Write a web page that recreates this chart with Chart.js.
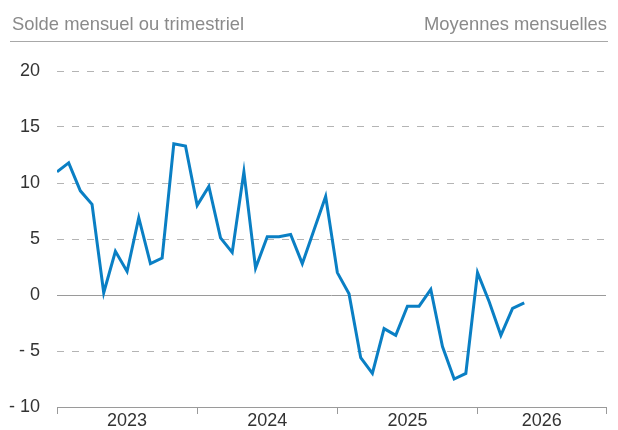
<!DOCTYPE html>
<html>
<head>
<meta charset="utf-8">
<script src="https://cdn.jsdelivr.net/npm/chart.js@4.4.1/dist/chart.umd.min.js"></script>
<style>
  body { margin: 0; background: #fff; }
  #wrap { position: relative; width: 618px; height: 430px; font-family: 'Liberation Sans', Arial, sans-serif; }
  #wrap canvas { position: absolute; left: 0; top: 0; }
  .head { position: absolute; top: 15px; font-size: 18.4px; line-height: 18px; color: #8a8a8a; white-space: nowrap; }
  #left { left: 12px; }
  #right { right: 11px; }
  #rule { position: absolute; left: 10px; top: 41px; width: 598px; height: 1px; background: #a8a8a8; }
</style>
</head>
<body>
<div id="wrap">
  <canvas id="chart" width="618" height="430"></canvas>
  <div class="head" id="left">Solde mensuel ou trimestriel</div>
  <div class="head" id="right">Moyennes mensuelles</div>
  <div id="rule"></div>
</div>
<script>
/* eslint-disable no-undef */
// Données (une valeur par mois, janv. 2023 -> mai 2026)
const years = ['2023', '2024', '2025', '2026'];
const balance = [
  11.0, 11.8, 9.3, 8.1, 0.2, 3.9, 2.1, 6.9, 2.8, 3.3, 13.5, 13.3,
  8.0, 9.7, 5.1, 3.8, 11.0, 2.4, 5.2, 5.2, 5.4, 2.8, 5.8, 8.8,
  2.0, 0.1, -5.6, -7.0, -3.0, -3.6, -1.0, -1.0, 0.5, -4.6, -7.5, -7.0,
  2.0, -0.6, -3.6, -1.2, -0.7,
];
const yTicks = [20, 15, 10, 5, 0, -5, -10];

// bornes des années et milieux pour les libellés
const lastIndex = years.length * 12 - 1;
const bounds = years.map((y, i) => i * 12).concat([lastIndex]);
const mids = years.map((y, i) => (bounds[i] + bounds[i + 1]) / 2);

const ctx = document.getElementById('chart').getContext('2d');
const chart = new Chart(ctx, {
  type: 'line',
  data: {
    datasets: [{
      data: balance.map((v, i) => ({ x: i, y: v })),
      borderColor: '#0a7fc4',
      borderWidth: 3,
      pointRadius: 0,
      tension: 0,
      fill: false,
    }],
  },
  options: {
    responsive: false,
    animation: false,
    layout: { padding: { top: 71, right: 12, left: 0, bottom: 0 } },
    plugins: { legend: { display: false }, tooltip: { enabled: false } },
    scales: {
      x: {
        type: 'linear',
        min: 0,
        max: lastIndex,
        afterBuildTicks: (s) => {
          s.ticks = bounds.concat(mids).sort((a, b) => a - b).map((v) => ({ value: v }));
        },
        afterFit: (s) => { s.height = 23; },
        ticks: {
          autoSkip: false,
          maxRotation: 0,
          padding: -4,
          color: '#333',
          font: { family: "'Liberation Sans', Arial, sans-serif", size: 18 },
          callback: (v) => {
            const k = mids.indexOf(v);
            return k >= 0 ? years[k] : '';
          },
        },
        grid: {
          drawOnChartArea: false,
          drawTicks: true,
          tickLength: 7,
          color: (c) => (bounds.includes(c.tick.value) ? '#9a9a9a' : 'rgba(0,0,0,0)'),
        },
        border: { display: true, color: '#9a9a9a', width: 1 },
      },
      y: {
        min: -10,
        max: 20,
        afterBuildTicks: (s) => { s.ticks = yTicks.map((v) => ({ value: v })); },
        afterFit: (s) => { s.width = 57; s.paddingTop = 0; s.paddingBottom = 0; },
        ticks: {
          padding: 17,
          color: '#333',
          font: { family: "'Liberation Sans', Arial, sans-serif", size: 18 },
          callback: (v) => (v < 0 ? '- ' + Math.abs(v) : String(v)),
        },
        grid: {
          drawTicks: false,
          color: (c) => (c.tick.value === 0 || c.tick.value === -10 ? 'rgba(0,0,0,0)' : '#b4b4b4'),
        },
        border: { display: false, dash: [7, 8] },
      },
      // ligne du zéro, pleine
      y0: {
        position: 'left',
        min: -10,
        max: 20,
        afterBuildTicks: (s) => { s.ticks = [{ value: 0 }]; },
        afterFit: (s) => { s.width = 0; s.paddingTop = 0; s.paddingBottom = 0; },
        ticks: { display: false },
        grid: { drawTicks: false, color: '#9a9a9a' },
        border: { display: false },
      },
    },
  },
});
chart.update();
</script>
</body>
</html>
